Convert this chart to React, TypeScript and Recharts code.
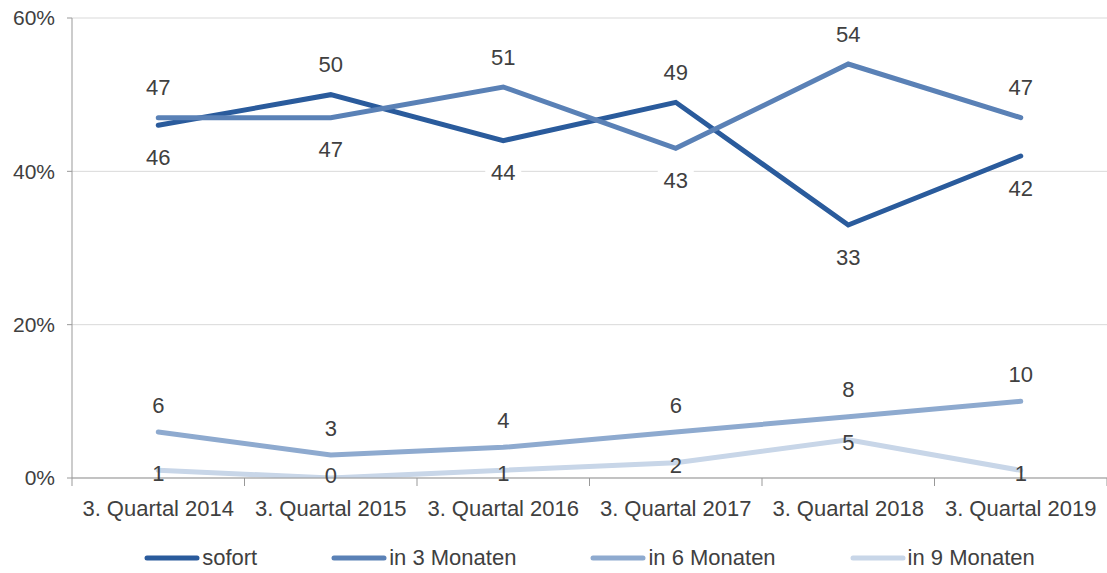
import React from 'react';
import { LineChart, Line, XAxis, YAxis, CartesianGrid, Legend, LabelList } from 'recharts';

const CATEGORIES = ['3. Quartal 2014', '3. Quartal 2015', '3. Quartal 2016', '3. Quartal 2017', '3. Quartal 2018', '3. Quartal 2019'];
const SOFORT = [46, 50, 44, 49, 33, 42];
const IN3 = [47, 47, 51, 43, 54, 47];
const IN6 = [6, 3, 4, 6, 8, 10];
const IN9 = [1, 0, 1, 2, 5, 1];
const Y_TICKS = [0, 20, 40, 60];
const SERIES_NAMES = ['sofort', 'in 3 Monaten', 'in 6 Monaten', 'in 9 Monaten'];
const COLORS = ['#2A5B9C', '#5A81B6', '#8EAACF', '#C8D6E8'];

const data = CATEGORIES.map((c, i) => ({ cat: c, sofort: SOFORT[i], in3: IN3[i], in6: IN6[i], in9: IN9[i] }));

const W = 1107;
const H = 573;
const Y_AXIS_W = 72;
const PLOT_W = W - Y_AXIS_W;
const BAND = PLOT_W / CATEGORIES.length;
const FONT = '"Liberation Sans", Arial, sans-serif';
const TEXT = '#404040';
const AXIS = '#999999';
const FS = 22;

const XTick = (props: any) => {
  const { x, y, payload, index } = props;
  const last = index === CATEGORIES.length - 1;
  return (
    <g>
      <line x1={x - BAND / 2} x2={x - BAND / 2} y1={y} y2={y + 8} stroke={AXIS} strokeWidth={1} />
      {last && <line x1={x + BAND / 2} x2={x + BAND / 2} y1={y} y2={y + 8} stroke={AXIS} strokeWidth={1} />}
      <text x={x} y={y + 30} textAnchor="middle" dominantBaseline="central" fontSize={FS} fontFamily={FONT} fill={TEXT}>
        {payload.value}
      </text>
    </g>
  );
};

const makeLabel = (own: number[], other: number[] | null, mode: 'pair' | 'above' | 'center') => (props: any) => {
  const { x, y, index } = props;
  const v = own[index];
  let cy = y;
  let bg = false;
  if (mode === 'pair' && other) {
    cy = y + (v >= other[index] ? -30 : 32);
    bg = true;
  } else if (mode === 'above') {
    cy = y - 27;
  } else {
    cy = Math.min(y + 3, 475);
  }
  const s = String(v);
  const w = s.length * 13 + 10;
  return (
    <g>
      {bg && <rect x={x - w / 2} y={cy - 12} width={w} height={24} fill="#ffffff" />}
      <text x={x} y={cy} textAnchor="middle" dominantBaseline="central" fontSize={FS} fontFamily={FONT} fill={TEXT}>
        {s}
      </text>
    </g>
  );
};

const LegendContent = () => (
  <div style={{ width: W, height: 30, paddingLeft: Y_AXIS_W, boxSizing: 'border-box', display: 'flex', justifyContent: 'center', alignItems: 'center' }}>
    {SERIES_NAMES.map((n, i) => (
      <div key={n} style={{ display: 'flex', alignItems: 'center', marginRight: i < SERIES_NAMES.length - 1 ? 74 : 0 }}>
        <svg width={56} height={8} style={{ display: 'block' }}>
          <line x1={3} x2={53} y1={4} y2={4} stroke={COLORS[i]} strokeWidth={5} strokeLinecap="round" />
        </svg>
        <span style={{ fontFamily: FONT, fontSize: FS, color: TEXT, marginLeft: 2, lineHeight: '30px' }}>{n}</span>
      </div>
    ))}
  </div>
);

export default function App() {
  return (
    <div style={{ position: 'absolute', left: 0, top: 0, width: W, height: H, background: '#fff' }}>
      <LineChart width={W} height={H} data={data} margin={{ top: 18, right: 0, left: 0, bottom: 0 }}>
        <CartesianGrid vertical={false} stroke="#d9d9d9" strokeWidth={1} />
        <XAxis
          dataKey="cat"
          height={65}
          padding={{ left: BAND / 2, right: BAND / 2 }}
          axisLine={{ stroke: AXIS, strokeWidth: 1 }}
          tickLine={false}
          tickSize={0}
          tickMargin={0}
          tick={<XTick />}
          interval={0}
        />
        <YAxis
          width={Y_AXIS_W}
          domain={[0, 60]}
          ticks={Y_TICKS}
          tickFormatter={(v: number) => `${v}%`}
          axisLine={{ stroke: AXIS, strokeWidth: 1 }}
          tickLine={{ stroke: AXIS, strokeWidth: 1 }}
          tickSize={5}
          tickMargin={12}
          tick={{ fontSize: 21, fontFamily: FONT, fill: TEXT }}
          allowDataOverflow
        />
        <Legend verticalAlign="bottom" content={<LegendContent />} />
        <Line dataKey="sofort" name={SERIES_NAMES[0]} stroke={COLORS[0]} strokeWidth={5} strokeLinecap="round" dot={false} isAnimationActive={false}>
          <LabelList dataKey="sofort" content={makeLabel(SOFORT, IN3, 'pair')} />
        </Line>
        <Line dataKey="in3" name={SERIES_NAMES[1]} stroke={COLORS[1]} strokeWidth={5} strokeLinecap="round" dot={false} isAnimationActive={false}>
          <LabelList dataKey="in3" content={makeLabel(IN3, SOFORT, 'pair')} />
        </Line>
        <Line dataKey="in6" name={SERIES_NAMES[2]} stroke={COLORS[2]} strokeWidth={5} strokeLinecap="round" dot={false} isAnimationActive={false}>
          <LabelList dataKey="in6" content={makeLabel(IN6, null, 'above')} />
        </Line>
        <Line dataKey="in9" name={SERIES_NAMES[3]} stroke={COLORS[3]} strokeWidth={5} strokeLinecap="round" dot={false} isAnimationActive={false}>
          <LabelList dataKey="in9" content={makeLabel(IN9, null, 'center')} />
        </Line>
      </LineChart>
    </div>
  );
}
